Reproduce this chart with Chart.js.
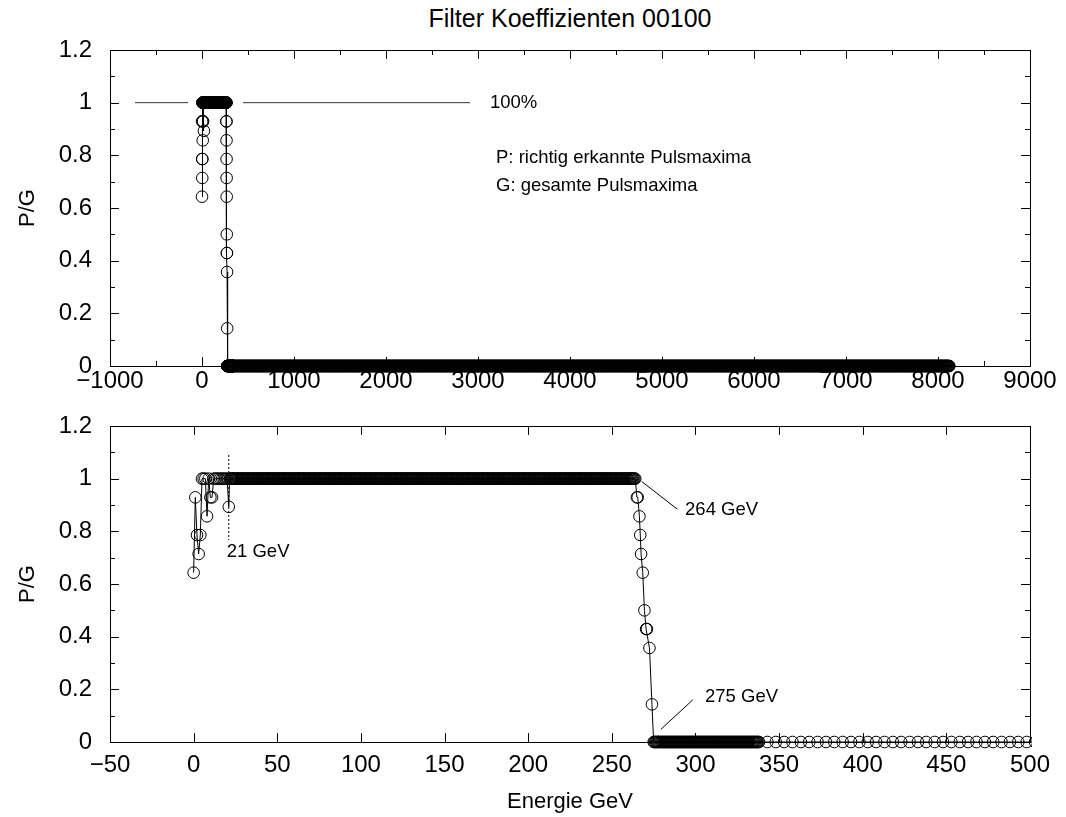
<!DOCTYPE html>
<html>
<head>
<meta charset="utf-8">
<script src="https://cdn.jsdelivr.net/npm/chart.js@4.4.0/dist/chart.umd.min.js"></script>
<style>
  body { margin: 0; background: #fff; }
  #wrap { position: relative; width: 1066px; height: 817px; }
  #title { position: absolute; top: 4px; left: 70px; width: 1000px; text-align: center;
           font: 25px "Liberation Sans", Arial, sans-serif; color: #000; }
  canvas { position: absolute; left: 0; }
  #top { top: 0; }
  #bottom { top: 400px; }
</style>
</head>
<body>
<div id="wrap">
  <div id="title">Filter Koeffizienten 00100</div>
  <canvas id="top" width="1066" height="400"></canvas>
  <canvas id="bottom" width="1066" height="417"></canvas>
</div>
<script>
// P/G below 22 GeV, point by point
var lowEnergy = [0, 1, 2, 3, 4, 5, 6, 7, 8, 9, 10, 11, 12, 13, 14, 15, 16, 17, 18, 19, 20, 21];
var lowRatio  = [0.643, 0.929, 0.786, 0.714, 0.786, 1, 1, 1, 0.857, 1, 0.929, 0.929, 1, 1, 1, 1, 1, 1, 1, 1, 1, 0.893];

// falling edge between 264 and 275 GeV
var edgeEnergy = [264, 265, 265.5, 266.5, 267, 267.5, 268.5, 269.5, 270.5, 271, 272.5, 274, 275];
var edgeRatio  = [1, 0.929, 0.929, 0.857, 0.786, 0.714, 0.643, 0.5, 0.429, 0.429, 0.357, 0.143, 0];

// stretches where P/G stays constant: [first GeV, last GeV, step, P/G]
var plateaus = [[21.5, 263.5, 0.5, 1], [275.5, 337.5, 0.5, 0], [338, 8123, 5, 0]];

// axis ticks
var topTicksX = [-1000, 0, 1000, 2000, 3000, 4000, 5000, 6000, 7000, 8000, 9000];
var bottomTicksX = [-50, 0, 50, 100, 150, 200, 250, 300, 350, 400, 450, 500];
var ticksY = [0, 0.2, 0.4, 0.6, 0.8, 1, 1.2];

var points = [];
lowEnergy.forEach(function (e, i) { points.push({ x: e, y: lowRatio[i] }); });
edgeEnergy.forEach(function (e, i) { points.push({ x: e, y: edgeRatio[i] }); });
plateaus.forEach(function (p) {
  for (var e = p[0]; e <= p[1]; e += p[2]) points.push({ x: e, y: p[3] });
});
points.sort(function (a, b) { return a.x - b.x; });

var FONT = '"Liberation Sans", Arial, sans-serif';

function fmt(v) {
  var s = String(Math.round(v * 10) / 10);
  return s.replace('-', '\u2212');
}

// frame, inward ticks on all four sides and the text notes
var framePlugin = {
  id: 'frame',
  afterDatasetsDraw: function (chart, args, o) {
    var ctx = chart.ctx, a = chart.chartArea, xs = chart.scales.x, ys = chart.scales.y;
    ctx.save();
    ctx.strokeStyle = '#000';
    ctx.lineWidth = 1;

    (o.segs || []).forEach(function (s) {
      ctx.save();
      ctx.strokeStyle = s.color || '#000';
      ctx.setLineDash(s.dash || []);
      ctx.beginPath();
      ctx.moveTo(xs.getPixelForValue(s.from[0]), ys.getPixelForValue(s.from[1]));
      ctx.lineTo(xs.getPixelForValue(s.to[0]), ys.getPixelForValue(s.to[1]));
      ctx.stroke();
      ctx.restore();
    });

    ctx.beginPath();
    for (var v = xs.min; v <= xs.max + 1e-9; v += o.xMinor) {
      var major = Math.abs(v / o.xMajor - Math.round(v / o.xMajor)) < 1e-6;
      var len = major ? 9 : 5;
      var px = Math.round(xs.getPixelForValue(v)) + 0.5;
      ctx.moveTo(px, a.bottom); ctx.lineTo(px, a.bottom - len);
      ctx.moveTo(px, a.top); ctx.lineTo(px, a.top + len);
    }
    for (var k = 0; k <= 12; k++) {
      var len2 = k % 2 === 0 ? 9 : 5;
      var py = Math.round(ys.getPixelForValue(k / 10)) + 0.5;
      ctx.moveTo(a.left, py); ctx.lineTo(a.left + len2, py);
      ctx.moveTo(a.right, py); ctx.lineTo(a.right - len2, py);
    }
    ctx.stroke();
    ctx.strokeRect(Math.round(a.left) + 0.5, Math.round(a.top) + 0.5,
                   Math.round(a.right - a.left), Math.round(a.bottom - a.top));

    ctx.fillStyle = '#000';
    ctx.font = '18.5px ' + FONT;
    ctx.textAlign = 'left';
    ctx.textBaseline = 'middle';
    (o.notes || []).forEach(function (n) {
      ctx.fillText(n.text, xs.getPixelForValue(n.x), ys.getPixelForValue(n.y));
    });
    ctx.restore();
  }
};

function makeChart(id, cfg) {
  return new Chart(document.getElementById(id).getContext('2d'), {
    type: 'line',
    data: {
      datasets: [{
        data: points,
        borderColor: '#000',
        borderWidth: 1,
        pointRadius: 5.8,
        pointBorderWidth: 1,
        pointBorderColor: '#000',
        pointBackgroundColor: 'rgba(0,0,0,0)',
        tension: 0,
        clip: { left: 10, right: 2, top: 10, bottom: 10 }
      }]
    },
    options: {
      responsive: false,
      animation: false,
      devicePixelRatio: 1,
      layout: { padding: cfg.padding },
      scales: {
        x: {
          type: 'linear',
          min: cfg.xTicks[0],
          max: cfg.xTicks[cfg.xTicks.length - 1],
          afterFit: function (s) {
            s.height = cfg.xHeight;
            s.paddingLeft = 0; s.paddingRight = 0;
          },
          afterBuildTicks: function (s) { s.ticks = cfg.xTicks.map(function (v) { return { value: v }; }); },
          grid: { display: false, drawTicks: false },
          border: { display: false },
          ticks: {
            color: '#000', padding: cfg.xPad, maxRotation: 0, autoSkip: false,
            font: { family: FONT, size: 24 },
            callback: function (v) { return fmt(v); }
          },
          title: cfg.xTitle ? {
            display: true, text: cfg.xTitle, color: '#000',
            font: { family: FONT, size: 22 }, padding: { top: 0, bottom: 2 }
          } : { display: false }
        },
        y: {
          min: 0,
          max: 1.2,
          afterFit: function (s) {
            s.width = 110;
            s.paddingTop = 0; s.paddingBottom = 0;
          },
          afterBuildTicks: function (s) { s.ticks = ticksY.map(function (v) { return { value: v }; }); },
          grid: { display: false, drawTicks: false },
          border: { display: false },
          ticks: {
            color: '#000', padding: 18,
            font: { family: FONT, size: 24 },
            callback: function (v) { return fmt(v); }
          },
          title: {
            display: true, text: 'P/G', color: '#000',
            font: { family: FONT, size: 22 }, padding: { top: 15, bottom: 0 }
          }
        }
      },
      plugins: {
        legend: { display: false },
        tooltip: { enabled: false },
        frame: cfg.frame
      }
    },
    plugins: [framePlugin]
  });
}

makeChart('top', {
  padding: { top: 50, right: 36, bottom: 0, left: 0 },
  xTicks: topTicksX,
  xHeight: 34,
  xPad: 1,
  frame: {
    xMinor: 500, xMajor: 1000,
    segs: [
      { from: [-728, 1], to: [-152, 1], color: '#333' },
      { from: [446, 1], to: [2913, 1], color: '#333' }
    ],
    notes: [
      { x: 3130, y: 1, text: '100%' },
      { x: 3196, y: 0.79, text: 'P: richtig erkannte Pulsmaxima' },
      { x: 3196, y: 0.684, text: 'G: gesamte Pulsmaxima' }
    ]
  }
});

makeChart('bottom', {
  padding: { top: 26, right: 36, bottom: 0, left: 0 },
  xTicks: bottomTicksX,
  xHeight: 75,
  xPad: 9,
  xTitle: 'Energie GeV',
  frame: {
    xMinor: 50, xMajor: 50,
    segs: [
      { from: [21, 1.09], to: [21, 0.767], dash: [2, 2] },
      { from: [267.9, 0.989], to: [289.2, 0.884] },
      { from: [279.3, 0.048], to: [298.4, 0.16] }
    ],
    notes: [
      { x: 19.8, y: 0.72, text: '21 GeV' },
      { x: 293.8, y: 0.88, text: '264 GeV' },
      { x: 305.7, y: 0.171, text: '275 GeV' }
    ]
  }
});
</script>
</body>
</html>
